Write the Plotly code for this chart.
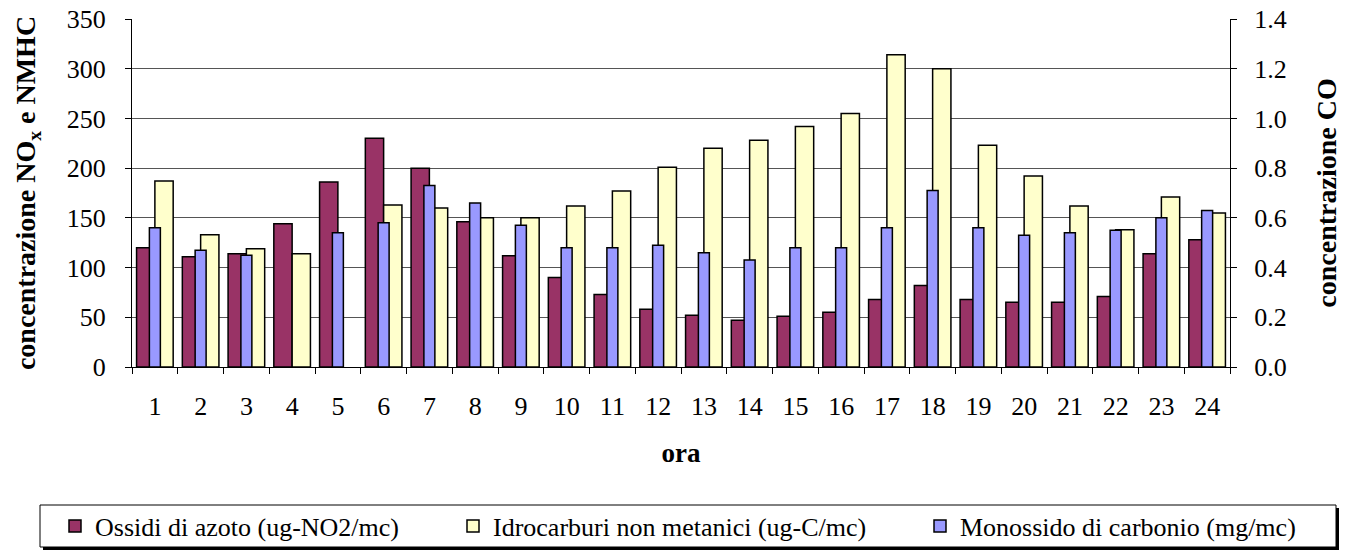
import plotly.graph_objects as go

hours = [str(h) for h in range(1, 25)]
nox = [120, 111, 114, 144, 186, 230, 200, 146, 112, 90, 73, 58, 52, 47, 51, 55, 68, 82, 68, 65, 65, 71, 114, 128]
nmhc = [187, 133, 119, 114, None, 163, 160, 150, 150, 162, 177, 201, 220, 228, 242, 255, 314, 300, 223, 192, 162, 138, 171, 155]
co = [0.56, 0.47, 0.45, None, 0.54, 0.58, 0.73, 0.66, 0.57, 0.48, 0.48, 0.49, 0.46, 0.43, 0.48, 0.48, 0.56, 0.71, 0.56, 0.53, 0.54, 0.55, 0.60, 0.63]

names = ["Ossidi di azoto (ug-NO2/mc)", "Idrocarburi non metanici (ug-C/mc)", "Monossido di carbonio (mg/mc)"]
colors = ["#993366", "#FFFFCC", "#9999FF"]

FONT = "Times New Roman, Liberation Serif, serif"

W, H = 1355, 551
L, R, T, B = 132, 125, 19, 184
PW, PH = W - L - R, H - T - B


def px(x):
    return (x - L) / PW


def py(y):
    return (H - B - y) / PH


fig = go.Figure()
fig.add_trace(go.Bar(x=hours, y=nox, name=names[0], legend="legend",
                     marker=dict(color=colors[0], line=dict(color="black", width=1.5)),
                     offset=-0.4, width=0.4, yaxis="y"))
fig.add_trace(go.Bar(x=hours, y=nmhc, name=names[1], legend="legend2",
                     marker=dict(color=colors[1], line=dict(color="black", width=1.5)),
                     offset=0.0, width=0.4, yaxis="y"))
fig.add_trace(go.Bar(x=hours, y=co, name=names[2], legend="legend3",
                     marker=dict(color=colors[2], line=dict(color="black", width=1.5)),
                     offset=-0.12, width=0.24, yaxis="y2"))

# legend frame with shadow
fig.add_shape(type="rect", xref="paper", yref="paper", x0=px(43), x1=px(1339), y0=py(550), y1=py(508),
              fillcolor="black", line=dict(width=0), layer="above")
fig.add_shape(type="rect", xref="paper", yref="paper", x0=px(40), x1=px(1336), y0=py(547), y1=py(505),
              fillcolor="white", line=dict(color="black", width=1), layer="above")

leg_common = dict(orientation="h", xanchor="left", y=py(526), yanchor="middle",
                  bgcolor="rgba(0,0,0,0)", borderwidth=0, font=dict(size=26, family=FONT))

fig.update_layout(
    width=W, height=H,
    margin=dict(l=L, r=R, t=T, b=B, autoexpand=False),
    paper_bgcolor="white", plot_bgcolor="white",
    font=dict(family=FONT, size=26, color="black"),
    barmode="overlay",
    showlegend=True,
    legend=dict(x=px(55), **leg_common),
    legend2=dict(x=px(453), **leg_common),
    legend3=dict(x=px(920), **leg_common),
    xaxis=dict(type="category", range=[-0.5, 23.5], showline=True, linecolor="black", linewidth=1,
               ticks="outside", tickson="boundaries", ticklen=6, tickcolor="black",
               ticklabelstandoff=16, showgrid=False, automargin=False,
               title=dict(text="<b>ora</b>", font=dict(size=27, family=FONT), standoff=22)),
    yaxis=dict(range=[0, 350], dtick=50, tickformat="d", showline=True, linecolor="black", linewidth=1,
               ticks="outside", ticklen=6, tickcolor="black", ticklabelstandoff=14,
               showgrid=True, gridcolor="#555555", gridwidth=1, zeroline=False, automargin=False,
               title=dict(text="<b>concentrazione NO<sub>x</sub> e NMHC</b>", font=dict(size=28, family=FONT), standoff=22)),
    yaxis2=dict(range=[0, 1.4], dtick=0.2, tickformat=".1f", overlaying="y", side="right", anchor="x",
                showline=True, linecolor="black", linewidth=1, ticks="outside", ticklen=6, tickcolor="black",
                ticklabelstandoff=12, showgrid=False, zeroline=False, automargin=False,
                title=dict(text="<b>concentrazione CO</b>", font=dict(size=28, family=FONT), standoff=30)),
)

fig.write_html("out.html")
